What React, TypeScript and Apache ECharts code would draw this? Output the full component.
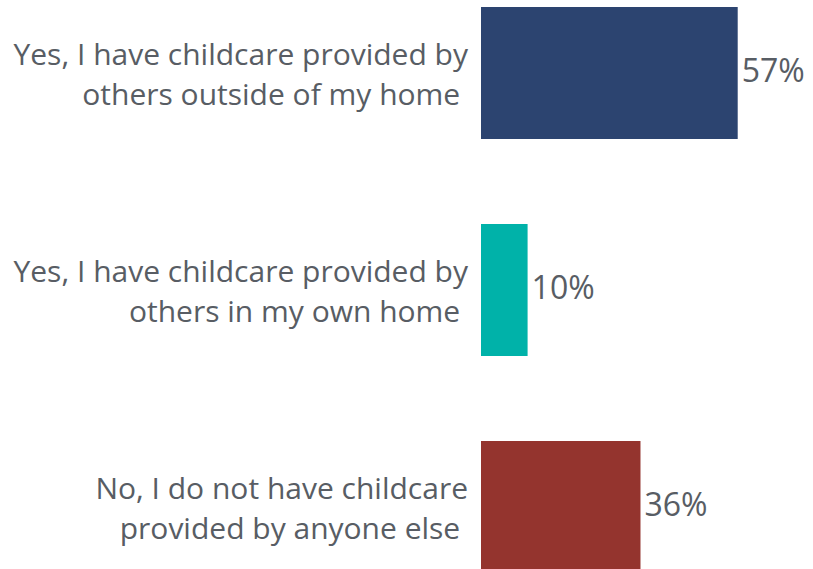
import React, { useEffect, useRef } from "react";
import * as echarts from "echarts";

const categories = [
  "Yes, I have childcare provided by\nothers outside of my home ",
  "Yes, I have childcare provided by\nothers in my own home ",
  "No, I do not have childcare\nprovided by anyone else ",
];
const values = [57.3, 10.4, 35.6];
const barColors = ["#2c4470", "#00b2a9", "#94342e"];

export default function App() {
  const ref = useRef<HTMLDivElement>(null);
  useEffect(() => {
    document.body.style.margin = "0";
    const chart = echarts.init(ref.current!, null, { renderer: "svg" });
    chart.setOption({
      animation: false,
      grid: {
        left: 481,
        top: -35.5,
        width: 448,
        height: 651,
        containLabel: false,
        outerBoundsMode: "none",
      },
      xAxis: {
        type: "value",
        min: 0,
        max: 100,
        show: false,
        splitLine: { show: false },
      },
      yAxis: {
        type: "category",
        data: categories,
        inverse: true,
        axisLine: { show: false },
        axisTick: { show: false },
        axisLabel: {
          margin: 13,
          fontFamily: "Open Sans",
          fontSize: 30,
          lineHeight: 40,
          color: "#585d64",
          align: "right",
        },
      },
      series: [
        {
          type: "bar",
          barWidth: 132,
          data: values.map((v, i) => ({ value: v, itemStyle: { color: barColors[i] } })),
          label: {
            show: true,
            position: "right",
            distance: 4,
            offset: [0, -4],
            fontFamily: "Open Sans",
            fontSize: 32,
            color: "#585d64",
            formatter: (p: any) => Math.round(p.value) + "%",
          },
        },
      ],
    });
    return () => chart.dispose();
  }, []);
  return <div ref={ref} style={{ width: 813, height: 569 }} />;
}
